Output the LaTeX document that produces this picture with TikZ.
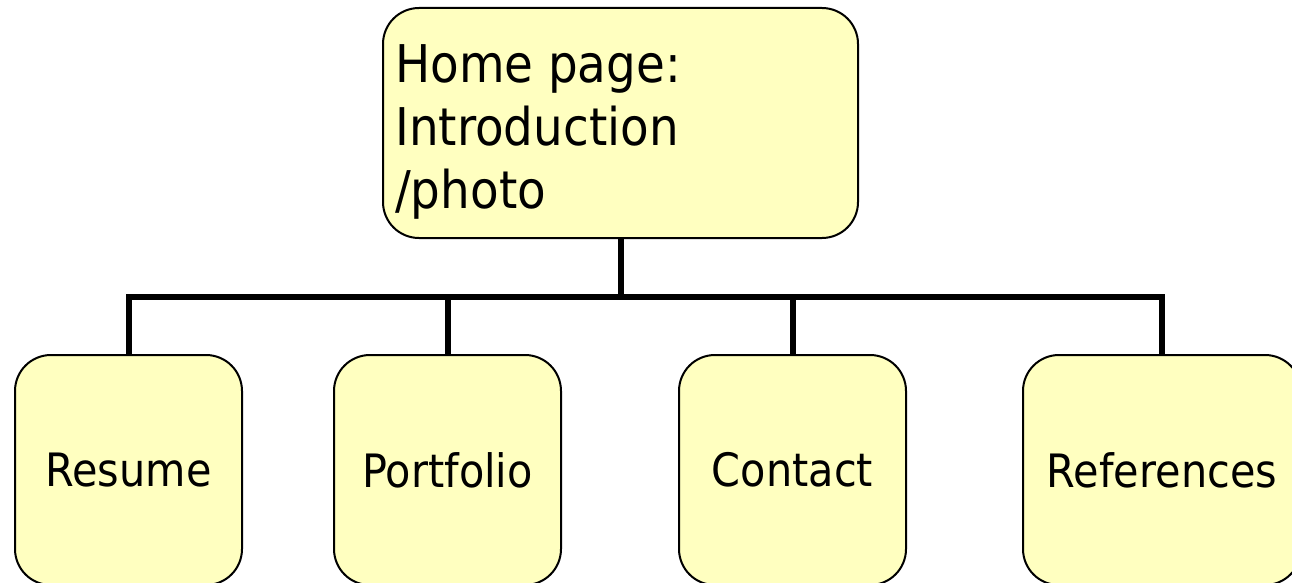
\documentclass[tikz,border=0pt]{standalone}
\usepackage{fontspec}
\setmainfont{DejaVu Sans}[FakeStretch=0.9]
\definecolor{boxfill}{RGB}{255,255,192}
\begin{document}
\begin{tikzpicture}[x=1pt,y=-1pt,
  page/.style={draw=black, line width=2pt, fill=boxfill, rounded corners=36pt,
    minimum width=227pt, minimum height=230pt, inner sep=0pt,
    font=\fontsize{46}{54}\selectfont},
  conn/.style={draw=black, line width=6pt, line join=miter}]
\useasboundingbox (0,0) rectangle (1292,583);
% top page
\node[page, minimum width=475pt] (home) at (620.5,123) {};
\node[anchor=north west, inner sep=0pt, align=left,
      font=\fontsize{52}{63}\selectfont] (hometext) at (395,44)
  {Home page:\\Introduction\\/photo};
% second-level pages
\node[page] (resume) at (128.5,470) {Resume};
\node[page] (portfolio) at (447.5,470) {Portfolio};
\node[page] (contact) at (792.5,470) {Contact};
\node[page, minimum width=278pt] (references) at (1162,470) {References};
% connectors
\coordinate (bus) at (620.5,297);
\draw[conn] (home.south) -- (bus);
\draw[conn] (resume.north) |- (bus) -| (references.north);
\draw[conn] (portfolio.north) -- (portfolio.north |- bus);
\draw[conn] (contact.north) -- (contact.north |- bus);
\end{tikzpicture}
\end{document}
